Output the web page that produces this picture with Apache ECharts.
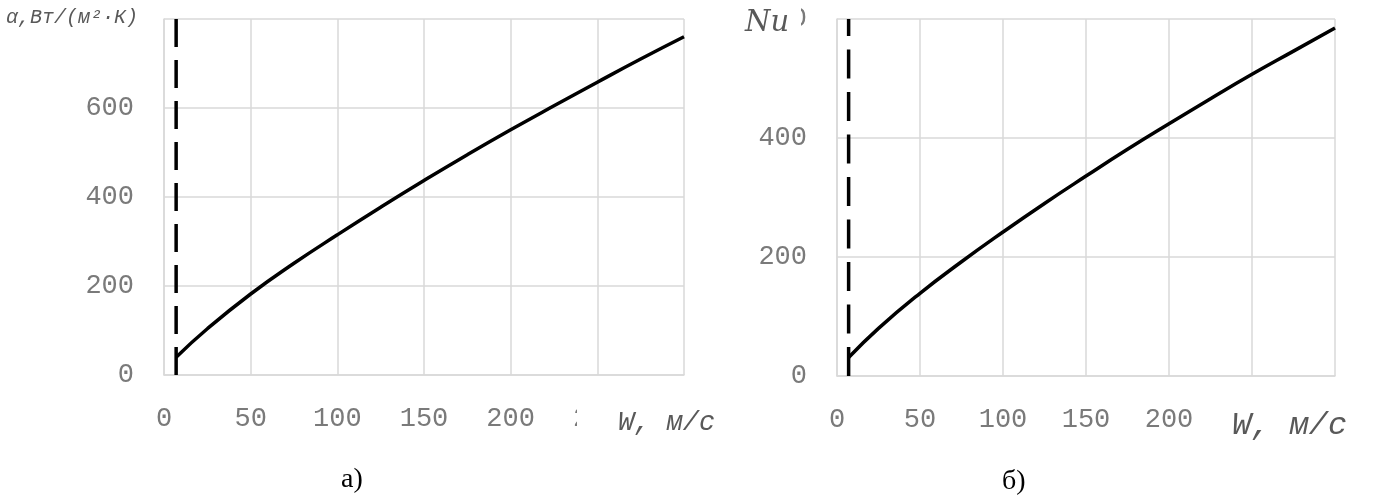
<!DOCTYPE html>
<html>
<head>
<meta charset="utf-8">
<script src="https://cdn.jsdelivr.net/npm/echarts@6/dist/echarts.min.js"></script>
<style>
html,body{margin:0;padding:0;background:#fff;}
#chart{width:1379px;height:499px;}
</style>
</head>
<body>
<div id="chart"></div>
<script>
// Data
const W = [7, 25, 50, 75, 100, 125, 150, 175, 200, 225, 250, 275, 300];
const alpha = [40, 104, 182, 251, 315, 377, 437, 495, 551, 605, 658, 710, 760];
const nu = [31, 80, 139, 192, 242, 290, 336, 381, 424, 466, 507, 546, 585];
const dashW = 7;
const alphaRange = [0, 800];
const nuRange = [0, 600];
const xRange = [0, 300];
const xTitle = 'W, м/с';
const alphaTitle = 'α,Вт/(м²·К)';
const nuTitle = 'Nu';
const captions = ['а)', 'б)'];

const pairs = (xs, ys) => xs.map((x, i) => [x, ys[i]]);

const gridColor = '#d9d9d9';
const labelColor = '#7a7a7a';
const mono = 'Liberation Mono';

function xAxis(idx) {
  return {
    type: 'value', gridIndex: idx, min: xRange[0], max: xRange[1], interval: 50,
    axisLine: {show: true, lineStyle: {color: gridColor, width: 1.5}},
    axisTick: {show: false},
    splitLine: {show: true, lineStyle: {color: gridColor, width: 1.5}},
    axisLabel: {fontFamily: mono, fontSize: 27, color: labelColor, margin: 30}
  };
}
function yAxis(idx, range) {
  return {
    type: 'value', gridIndex: idx, min: range[0], max: range[1], interval: 200,
    axisLine: {show: true, lineStyle: {color: gridColor, width: 1.5}},
    axisTick: {show: false},
    splitLine: {show: true, lineStyle: {color: gridColor, width: 1.5}},
    axisLabel: {fontFamily: mono, fontSize: 27, color: labelColor, margin: 30}
  };
}

const curveStyle = {color: '#000', width: 3.5};

const chart = echarts.init(document.getElementById('chart'));
chart.setOption({
  backgroundColor: '#fff',
  animation: false,
  grid: [
    {left: 164, right: 695, top: 19, bottom: 124},
    {left: 837, right: 44, top: 19, bottom: 123}
  ],
  xAxis: [xAxis(0), xAxis(1)],
  yAxis: [yAxis(0, alphaRange), yAxis(1, nuRange)],
  series: [
    {type: 'line', xAxisIndex: 0, yAxisIndex: 0, data: [[dashW, alphaRange[0]], [dashW, alphaRange[1]]],
     showSymbol: false, lineStyle: {color: '#000', width: 3.5, type: [28, 13], cap: 'butt'}, z: 3},
    {type: 'line', xAxisIndex: 0, yAxisIndex: 0, data: pairs(W, alpha), smooth: 0.5,
     showSymbol: false, lineStyle: curveStyle, z: 4},
    {type: 'line', xAxisIndex: 1, yAxisIndex: 1, data: [[dashW, nuRange[0]], [dashW, nuRange[1]]],
     showSymbol: false, lineStyle: {color: '#000', width: 3.5, type: [29, 13.5], cap: 'butt'}, z: 3},
    {type: 'line', xAxisIndex: 1, yAxisIndex: 1, data: pairs(W, nu), smooth: 0.5,
     showSymbol: false, lineStyle: curveStyle, z: 4}
  ],
  graphic: {
    elements: [
      // title boxes (white fill) covering overlapped tick labels, like in the original
      {type: 'rect', z: 100, shape: {x: 0, y: 0, width: 152, height: 40}, style: {fill: '#fff'}},
      {type: 'text', z: 101, left: 6, top: 8,
       style: {text: alphaTitle, fontFamily: mono, fontStyle: 'italic', fontSize: 20, fill: '#595959'}},
      {type: 'rect', z: 100, shape: {x: 690, y: 0, width: 111, height: 42}, style: {fill: '#fff'}},
      {type: 'text', z: 101, left: 745, top: 9,
       style: {text: nuTitle, fontFamily: 'DejaVu Serif', fontStyle: 'italic', fontSize: 29, fill: '#595959'}},
      {type: 'rect', z: 100, shape: {x: 577, y: 398, width: 170, height: 50}, style: {fill: '#fff'}},
      {type: 'text', z: 101, left: 618, top: 409,
       style: {text: xTitle, fontFamily: mono, fontStyle: 'italic', fontSize: 27, fill: '#595959'}},
      {type: 'rect', z: 100, shape: {x: 1222, y: 398, width: 157, height: 56}, style: {fill: '#fff'}},
      {type: 'text', z: 101, left: 1232, top: 410,
       style: {text: xTitle, fontFamily: mono, fontStyle: 'italic', fontSize: 32, fill: '#595959'}},
      // captions
      {type: 'text', z: 101, left: 341, top: 466,
       style: {text: captions[0], fontFamily: 'Liberation Serif', fontSize: 28, fill: '#000'}},
      {type: 'text', z: 101, left: 1002, top: 468,
       style: {text: captions[1], fontFamily: 'Liberation Serif', fontSize: 28, fill: '#000'}}
    ]
  }
});
</script>
</body>
</html>
